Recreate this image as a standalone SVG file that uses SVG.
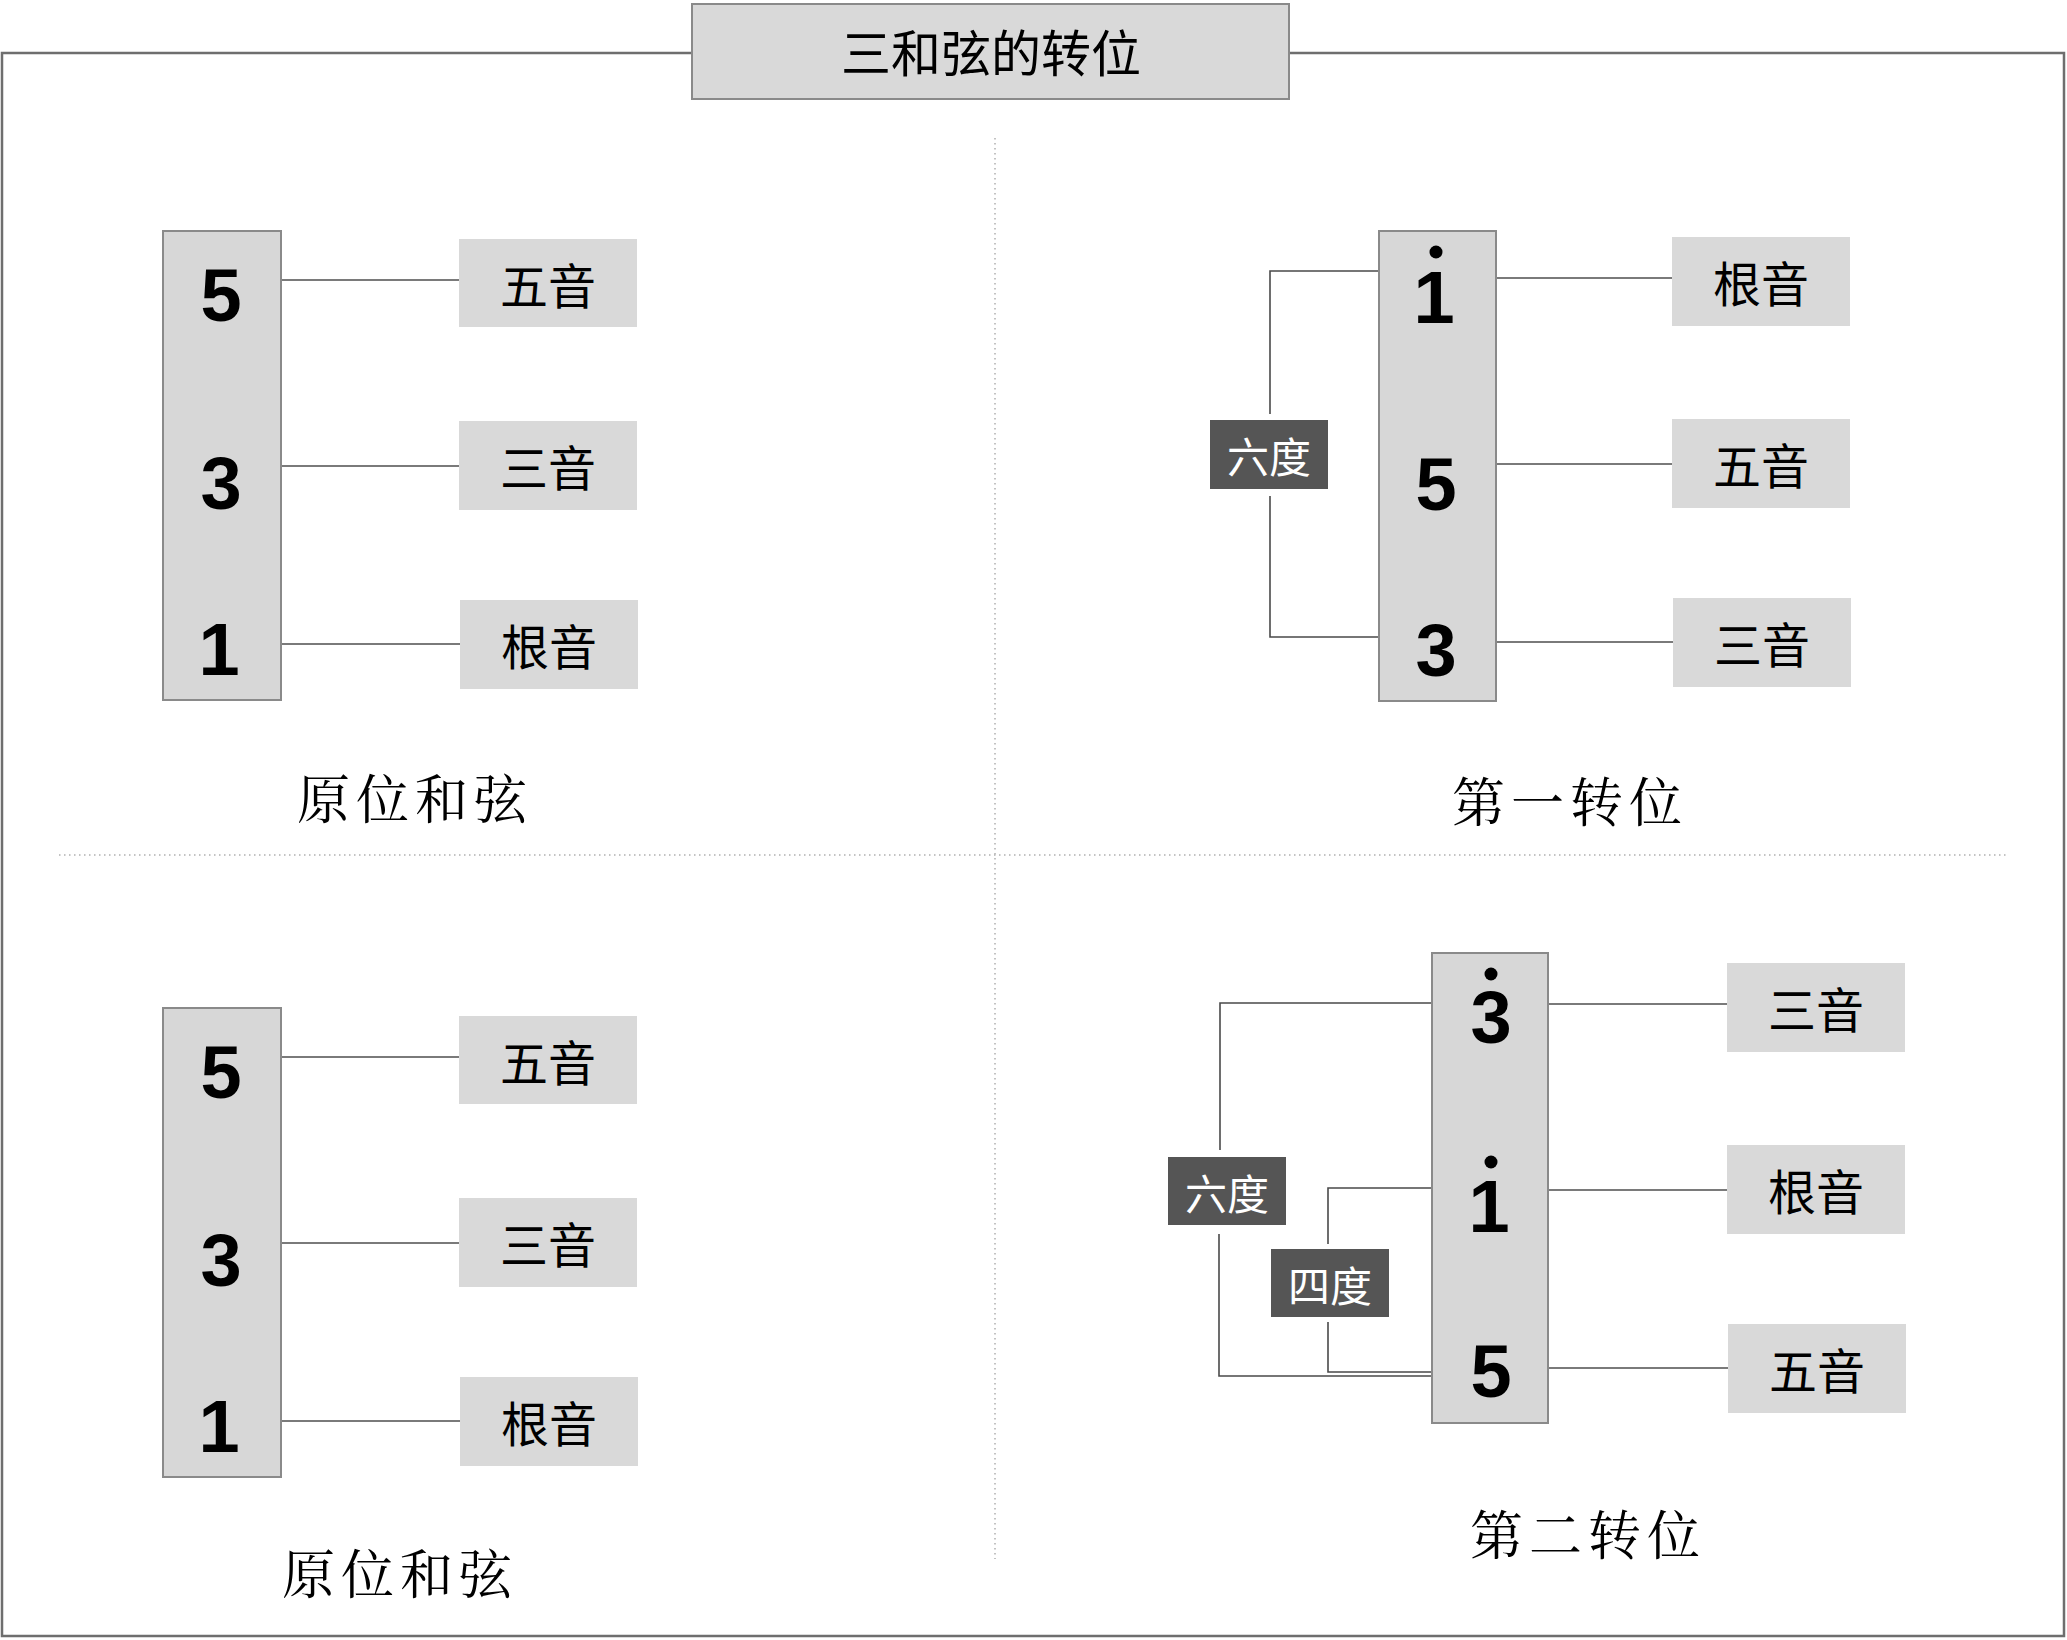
<svg xmlns="http://www.w3.org/2000/svg" width="2067" height="1640" viewBox="0 0 2067 1640">
<defs>
<style>
.frame{fill:none;stroke:#6e6e6e;stroke-width:2.5}
.dot{fill:none;stroke:#b0b0b0;stroke-width:1.5;stroke-dasharray:1.5 3.5}
.tall{fill:#d7d7d7;stroke:#8a8a8a;stroke-width:2}
.lab{fill:#d9d9d9}
.dark{fill:#555555}
.conn{fill:none;stroke:#7a7a7a;stroke-width:2}
.br{fill:none;stroke:#4a4a4a;stroke-width:1.6}
.num{font-family:"Liberation Sans",Arial,sans-serif;font-weight:bold;font-size:74px;fill:#000;text-anchor:middle}
.lt{font-family:"Noto Sans CJK SC",sans-serif;font-size:48px;fill:#000;text-anchor:middle;dominant-baseline:central}
.dt{font-family:"Noto Sans CJK SC",sans-serif;font-size:42px;fill:#fff;text-anchor:middle;dominant-baseline:central}
.cap{font-family:"Noto Serif CJK SC","Noto Sans CJK SC",serif;font-size:53px;letter-spacing:6px;fill:#000;dominant-baseline:central}
.title{font-family:"Noto Sans CJK SC",sans-serif;font-size:50px;fill:#000;text-anchor:middle;dominant-baseline:central}
</style>
</defs>
<rect width="2067" height="1640" fill="#fff"/>
<path class="frame" d="M692 53 H2 V1636 H2064 V53 H1289"/>
<line class="dot" x1="995" y1="138" x2="995" y2="1559"/>
<line class="dot" x1="59" y1="855" x2="2008" y2="855"/>

<g id="title">
<rect x="692" y="4" width="597" height="95" fill="#d9d9d9" stroke="#8a8a8a" stroke-width="2"/>
<text class="title" x="991" y="50">三和弦的转位</text>
</g>

<g id="connectors">
<path class="conn" d="M282 280 H459 M282 466 H459 M282 644 H460"/>
<path class="conn" d="M282 1057 H459 M282 1243 H459 M282 1421 H460"/>
<path class="conn" d="M1496 278 H1672 M1496 464 H1672 M1496 642 H1673"/>
<path class="conn" d="M1548 1004 H1727 M1548 1190 H1727 M1548 1368 H1728"/>
<path class="br" d="M1379 271 H1270 V414 M1270 496 V637 H1379"/>
<path class="br" d="M1432 1003 H1220 V1150 M1219 1234 V1376 H1432"/>
<path class="br" d="M1432 1188 H1328 V1244 M1328 1322 V1372 H1432"/>
</g>

<g id="chord-root-1">
<rect class="tall" x="163" y="231" width="118" height="469"/>
<text class="num" x="221" y="321">5</text>
<text class="num" x="221" y="509">3</text>
<text class="num" x="219" y="675">1</text>
</g>
<g id="label-tl-5"><rect class="lab" x="459" y="239" width="178" height="88"/><text class="lt" x="548" y="283">五音</text></g>
<g id="label-tl-3"><rect class="lab" x="459" y="421" width="178" height="89"/><text class="lt" x="548" y="465">三音</text></g>
<g id="label-tl-1"><rect class="lab" x="460" y="600" width="178" height="89"/><text class="lt" x="549" y="644">根音</text></g>
<g id="caption-tl"><text class="cap" x="297" y="796">原位和弦</text></g>

<g id="chord-root-2">
<rect class="tall" x="163" y="1008" width="118" height="469"/>
<text class="num" x="221" y="1098">5</text>
<text class="num" x="221" y="1286">3</text>
<text class="num" x="219" y="1452">1</text>
</g>
<g id="label-bl-5"><rect class="lab" x="459" y="1016" width="178" height="88"/><text class="lt" x="548" y="1060">五音</text></g>
<g id="label-bl-3"><rect class="lab" x="459" y="1198" width="178" height="89"/><text class="lt" x="548" y="1242">三音</text></g>
<g id="label-bl-1"><rect class="lab" x="460" y="1377" width="178" height="89"/><text class="lt" x="549" y="1421">根音</text></g>
<g id="caption-bl"><text class="cap" x="282" y="1571">原位和弦</text></g>

<g id="chord-first">
<rect class="tall" x="1379" y="231" width="117" height="470"/>
<circle cx="1436" cy="252" r="6.5" fill="#000"/>
<text class="num" x="1434" y="323">1</text>
<text class="num" x="1436" y="510">5</text>
<text class="num" x="1436" y="676">3</text>
</g>
<g id="label-tr-1"><rect class="lab" x="1672" y="237" width="178" height="89"/><text class="lt" x="1761" y="281">根音</text></g>
<g id="label-tr-5"><rect class="lab" x="1672" y="419" width="178" height="89"/><text class="lt" x="1761" y="463">五音</text></g>
<g id="label-tr-3"><rect class="lab" x="1673" y="598" width="178" height="89"/><text class="lt" x="1762" y="642">三音</text></g>
<g id="interval-tr-6"><rect class="dark" x="1210" y="420" width="118" height="69"/><text class="dt" x="1269" y="454">六度</text></g>
<g id="caption-tr"><text class="cap" x="1452" y="799">第一转位</text></g>

<g id="chord-second">
<rect class="tall" x="1432" y="953" width="116" height="470"/>
<circle cx="1491" cy="974" r="6.5" fill="#000"/>
<text class="num" x="1491" y="1043">3</text>
<circle cx="1491" cy="1162" r="6.5" fill="#000"/>
<text class="num" x="1489" y="1232">1</text>
<text class="num" x="1491" y="1397">5</text>
</g>
<g id="label-br-3"><rect class="lab" x="1727" y="963" width="178" height="89"/><text class="lt" x="1816" y="1007">三音</text></g>
<g id="label-br-1"><rect class="lab" x="1727" y="1145" width="178" height="89"/><text class="lt" x="1816" y="1189">根音</text></g>
<g id="label-br-5"><rect class="lab" x="1728" y="1324" width="178" height="89"/><text class="lt" x="1817" y="1368">五音</text></g>
<g id="interval-br-6"><rect class="dark" x="1168" y="1157" width="118" height="68"/><text class="dt" x="1227" y="1191">六度</text></g>
<g id="interval-br-4"><rect class="dark" x="1271" y="1249" width="118" height="68"/><text class="dt" x="1330" y="1283">四度</text></g>
<g id="caption-br"><text class="cap" x="1470" y="1532">第二转位</text></g>
</svg>
